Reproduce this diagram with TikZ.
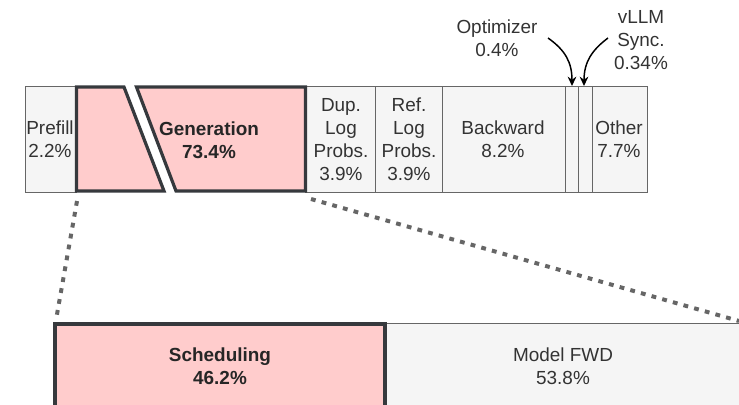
\documentclass[tikz,border=0pt]{standalone}
\usepackage{fontspec}
\setmainfont{Liberation Sans}
\usetikzlibrary{arrows.meta}
\definecolor{cellfill}{HTML}{F5F5F5}
\definecolor{cellline}{HTML}{666666}
\definecolor{pinkfill}{HTML}{FFCCCC}
\definecolor{darkline}{HTML}{36393D}
\definecolor{txt}{HTML}{333333}
\tikzset{
  cell/.style={draw=cellline, fill=cellfill, line width=0.75pt},
  hot/.style={draw=darkline, fill=pinkfill, line width=2.4pt, line join=miter},
  lbl/.style={align=center, text=txt, font=\fontsize{14.2}{17.3}\selectfont, inner sep=0pt},
  blbl/.style={align=center, text=black!85, font=\fontsize{14.2}{17.3}\selectfont\bfseries, inner sep=0pt},
  zoomline/.style={draw=cellline, line width=3pt, dash pattern=on 3.6pt off 4.7pt},
  pointer/.style={draw=black, line width=1.1pt, -{Stealth[length=7pt,width=6.5pt]}},
}
\begin{document}
\begin{tikzpicture}[x=0.75pt, y=-0.75pt]
\useasboundingbox (0,0) rectangle (739,404);
\begin{scope}
\clip (0,0) rectangle (739,404);
% top bar cells
\draw[cell] (25,86) rectangle (76.5,192);
\draw[cell] (305.5,86) rectangle (375,192);
\draw[cell] (375,86) rectangle (442,192);
\draw[cell] (442,86) rectangle (565,192);
\draw[cell] (565,86) rectangle (578,192);
\draw[cell] (578,86) rectangle (592,192);
\draw[cell] (592,86) rectangle (647,192);
% generation with break
\draw[hot] (76.5,87) -- (124,87) -- (164,191) -- (76.5,191) -- cycle;
\draw[hot] (136.5,87) -- (305.5,87) -- (305.5,191) -- (176,191) -- cycle;
% bottom bar
\draw[cell] (385,323) rectangle (760,420);
\draw[hot] (55,324) rectangle (385,420);
\end{scope}
% coordinates
\coordinate (genBL) at (77,201);
\coordinate (genBR) at (311,199);
\coordinate (botL) at (56,320);
\coordinate (botR) at (739,321);
\coordinate (optTop) at (572,86);
\coordinate (syncTop) at (584,86);
% texts
\node[lbl] (prefill) at (50,139.5) {Prefill\\2.2\%};
\node[blbl] (gen) at (209,140) {Generation\\73.4\%};
\node[lbl] (dup) at (341,139.5) {Dup.\\Log\\Probs.\\3.9\%};
\node[lbl] (ref) at (409,139.5) {Ref.\\Log\\Probs.\\3.9\%};
\node[lbl] (bwd) at (503,139.5) {Backward\\8.2\%};
\node[lbl] (other) at (619,139.5) {Other\\7.7\%};
\node[lbl] (opt) at (497,38) {Optimizer\\0.4\%};
\node[lbl] (sync) at (641,40) {vLLM\\Sync.\\0.34\%};
\node[blbl] (sched) at (220,366) {Scheduling\\46.2\%};
\node[lbl] (fwd) at (563,366) {Model FWD\\53.8\%};
% zoom lines
\draw[zoomline] (genBL) -- (botL);
\draw[zoomline] (genBR) -- (botR);
% pointers
\draw[pointer] (548,38) .. controls (565,50) and (572,62) .. (optTop);
\draw[pointer] (608,38) .. controls (592,50) and (584,62) .. (syncTop);
\end{tikzpicture}
\end{document}
